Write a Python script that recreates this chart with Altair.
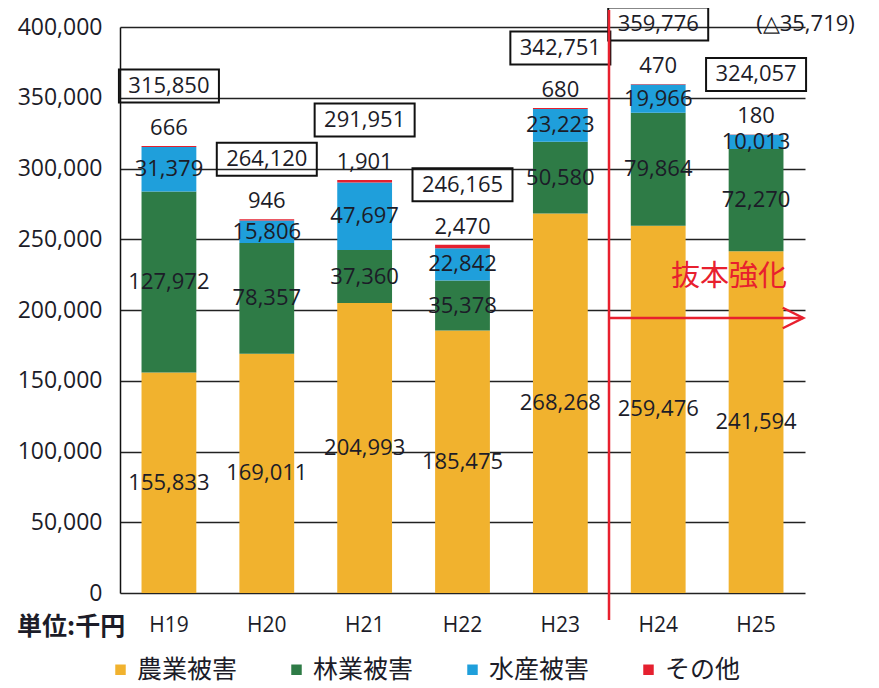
import altair as alt
import pandas as pd

years = ["H19", "H20", "H21", "H22", "H23", "H24", "H25"]
categories = ["農業被害", "林業被害", "水産被害", "その他"]
colors = ["#F1B22E", "#2E7B46", "#1F9FDB", "#E5202F"]
agri = [155833, 169011, 204993, 185475, 268268, 259476, 241594]
forest = [127972, 78357, 37360, 35378, 50580, 79864, 72270]
fish = [31379, 15806, 47697, 22842, 23223, 19966, 10013]
other = [666, 946, 1901, 2470, 680, 470, 180]
totals = [315850, 264120, 291951, 246165, 342751, 359776, 324057]
notes = ["", "", "", "", "", "(△35,719)", ""]
y_ticks = [0, 50000, 100000, 150000, 200000, 250000, 300000, 350000, 400000]

rows = []
for i, y in enumerate(years):
    for k, (cat, vals) in enumerate(zip(categories, [agri, forest, fish, other])):
        rows.append({"year": y, "cat": cat, "idx": k, "value": vals[i],
                     "label": f"{vals[i]:,}"})
df = pd.DataFrame(rows)
tot = pd.DataFrame({"year": years, "total": totals,
                    "label": [f"{t:,}" for t in totals], "note": notes})

NUM_FONT = "Open Sans"
JP_FONT = "Noto Sans CJK JP"
TXT = "#1c1c28"

xenc = alt.X("year:N", sort=years,
             scale=alt.Scale(paddingInner=0.44, paddingOuter=0.22),
             axis=alt.Axis(title=None, labelAngle=0, ticks=False, domain=False,
                           labelFontSize=21, labelFont=NUM_FONT, labelColor=TXT,
                           labelPadding=21))
yscale = alt.Scale(domain=[0, 400000], nice=False)
yaxis = alt.Axis(title=None, values=y_ticks, format=",d", ticks=False,
                 labelExpr="format(datum.value, ',d')",
                 domainColor="#111", domainWidth=1.5,
                 gridColor="#222", gridWidth=1.3,
                 labelFontSize=23, labelFont=NUM_FONT, labelColor=TXT,
                 labelPadding=18)


def ysub(field):
    return alt.Y(field, scale=yscale, axis=yaxis)


bars = alt.Chart(df).mark_bar().encode(
    x=xenc,
    y=alt.Y("value:Q", stack="zero", scale=yscale, axis=yaxis),
    color=alt.Color("cat:N", sort=categories,
                    scale=alt.Scale(domain=categories, range=colors),
                    legend=alt.Legend(title=None, orient="none", legendX=-12, legendY=630,
                                      direction="horizontal", columns=4,
                                      symbolType="square", symbolSize=110,
                                      symbolStrokeWidth=0, columnPadding=46,
                                      labelFontSize=25, labelFont=JP_FONT,
                                      labelColor=TXT, labelOffset=4)),
    order=alt.Order("idx:Q"),
)

stacked = alt.Chart(df).transform_stack(
    stack="value", groupby=["year"], sort=[alt.SortField("idx")], as_=["y0", "y1"]
).transform_calculate(mid="(datum.y0 + datum.y1) / 2")

seg_labels = stacked.transform_filter("datum.idx < 3").mark_text(
    fontSize=22, font=NUM_FONT, color=TXT
).encode(x=alt.X("year:N", sort=years), y=ysub("mid:Q"), text="label:N")

top_labels = stacked.transform_filter("datum.idx == 3").mark_text(
    fontSize=22, font=NUM_FONT, color=TXT, baseline="bottom", dy=-6
).encode(x=alt.X("year:N", sort=years), y=ysub("y1:Q"), text="label:N")

boxes = alt.Chart(tot).mark_point(
    shape="M-1,-0.33L1,-0.33L1,0.33L-1,0.33Z", size=10000, filled=False,
    stroke="#111", strokeWidth=2, opacity=1, yOffset=-60
).encode(x=alt.X("year:N", sort=years), y=ysub("total:Q"))

tot_text = alt.Chart(tot).mark_text(
    fontSize=22, font=NUM_FONT, color=TXT, dy=-60
).encode(x=alt.X("year:N", sort=years), y=ysub("total:Q"), text="label:N")

note_text = alt.Chart(tot).transform_filter("datum.note != ''").mark_text(
    fontSize=22, font=NUM_FONT, color=TXT, dy=-60, dx=98, align="left"
).encode(x=alt.X("year:N", sort=years), y=ysub("total:Q"), text="note:N")

red = "#E8202E"
vline = alt.Chart(pd.DataFrame({"a": [0]})).mark_rule(color=red, strokeWidth=2.5).encode(
    x=alt.value(489), y=alt.value(-17), y2=alt.value(593))
hline = alt.Chart(pd.DataFrame({"a": [0]})).mark_rule(color=red, strokeWidth=2.5).encode(
    x=alt.value(489), x2=alt.value(683), y=alt.value(291))
arrow = alt.Chart(pd.DataFrame({"a": [0]})).mark_point(
    shape="M-1,-1L1,0L-1,1", size=420, filled=False, stroke=red, strokeWidth=2.5, opacity=1
).encode(x=alt.value(673), y=alt.value(291))
kahon = alt.Chart(pd.DataFrame({"t": ["抜本強化"]})).mark_text(
    fontSize=29, font=JP_FONT, color=red
).encode(x=alt.value(609), y=alt.value(250), text="t:N")
unit = alt.Chart(pd.DataFrame({"t": ["単位:千円"]})).mark_text(
    fontSize=25, font=JP_FONT, fontWeight="bold", color=TXT, align="left"
).encode(x=alt.value(-103), y=alt.value(600), text="t:N")

chart = alt.layer(bars, seg_labels, top_labels, boxes, tot_text, note_text,
                  vline, hline, arrow, kahon, unit).properties(
    width=685, height=566,
    padding={"left": 112, "top": 19, "right": 66, "bottom": 92},
    autosize="none",
    background="white",
).configure_view(stroke=None)

chart.save("out.html", embed_options={"renderer": "svg", "actions": False})
